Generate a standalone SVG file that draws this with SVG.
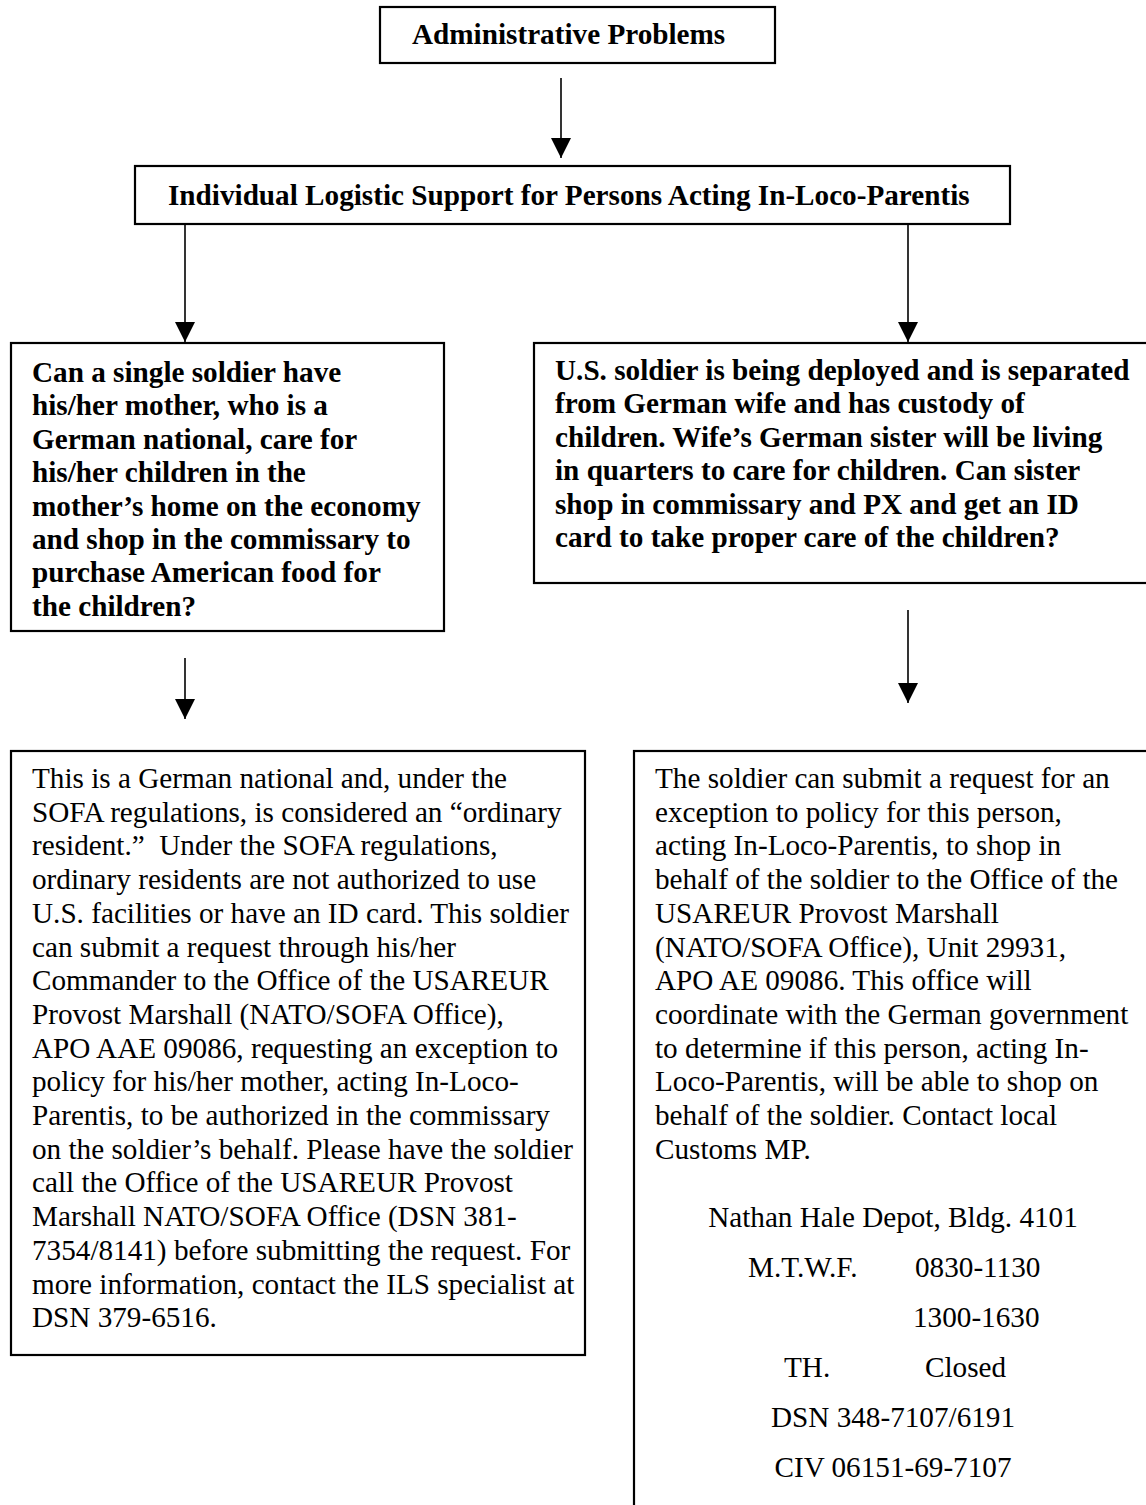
<svg xmlns="http://www.w3.org/2000/svg" width="1146" height="1505" viewBox="0 0 1146 1505">
  <defs>
    <marker id="arrowhead" markerUnits="userSpaceOnUse" markerWidth="21" markerHeight="20" refX="20" refY="10" orient="auto">
      <path d="M0,0 L20,10 L0,20 Z" fill="#000"/>
    </marker>
    <style>
      .box { fill: #fff; stroke: #000; stroke-width: 2.2; }
      .conn { stroke: #000; stroke-width: 1.6; fill: none; marker-end: url(#arrowhead); }
      text { font-family: "Liberation Serif", "Times New Roman", serif; font-size: 29.2px; fill: #000; }
      .b { font-weight: bold; }
      .c { text-anchor: middle; }
    </style>
  </defs>
  <rect width="1146" height="1505" fill="#fff"/>

  <!-- connectors -->
  <g id="connectors">
    <line class="conn" x1="561" y1="78" x2="561" y2="158"/>
    <line class="conn" x1="185" y1="224" x2="185" y2="342"/>
    <line class="conn" x1="908" y1="224" x2="908" y2="342"/>
    <line class="conn" x1="185" y1="658" x2="185" y2="719"/>
    <line class="conn" x1="908" y1="610" x2="908" y2="703"/>
  </g>

  <g id="admin-problems">
    <rect class="box" x="380" y="7" width="395" height="56"/>
    <text class="b" x="412" y="44">Administrative Problems</text>
  </g>

  <g id="ils-in-loco-parentis">
    <rect class="box" x="135" y="166" width="875" height="58"/>
    <text class="b" x="168" y="205">Individual Logistic Support for Persons Acting In-Loco-Parentis</text>
  </g>

  <g id="question-mother">
    <rect class="box" x="11" y="343" width="433" height="288"/>
    <text class="b" x="32" y="382">
      <tspan x="32" y="382">Can a single soldier have</tspan>
      <tspan x="32" y="415.4">his/her mother, who is a</tspan>
      <tspan x="32" y="448.8">German national, care for</tspan>
      <tspan x="32" y="482.2">his/her children in the</tspan>
      <tspan x="32" y="515.6">mother’s home on the economy</tspan>
      <tspan x="32" y="549">and shop in the commissary to</tspan>
      <tspan x="32" y="582.4">purchase American food for</tspan>
      <tspan x="32" y="615.8">the children?</tspan>
    </text>
  </g>

  <g id="question-sister">
    <rect class="box" x="534" y="343" width="620" height="240"/>
    <text class="b" x="555" y="380">
      <tspan x="555" y="380">U.S. soldier is being deployed and is separated</tspan>
      <tspan x="555" y="413.4">from German wife and has custody of</tspan>
      <tspan x="555" y="446.8">children. Wife’s German sister will be living</tspan>
      <tspan x="555" y="480.2">in quarters to care for children. Can sister</tspan>
      <tspan x="555" y="513.6">shop in commissary and PX and get an ID</tspan>
      <tspan x="555" y="547">card to take proper care of the children?</tspan>
    </text>
  </g>

  <g id="answer-mother">
    <rect class="box" x="11" y="751" width="574" height="604"/>
    <text x="32" y="788">
      <tspan x="32" y="788">This is a German national and, under the</tspan>
      <tspan x="32" y="821.7">SOFA regulations, is considered an “ordinary</tspan>
      <tspan x="32" y="855.4" xml:space="preserve">resident.”  Under the SOFA regulations,</tspan>
      <tspan x="32" y="889.1">ordinary residents are not authorized to use</tspan>
      <tspan x="32" y="922.8">U.S. facilities or have an ID card. This soldier</tspan>
      <tspan x="32" y="956.5">can submit a request through his/her</tspan>
      <tspan x="32" y="990.2">Commander to the Office of the USAREUR</tspan>
      <tspan x="32" y="1023.9">Provost Marshall (NATO/SOFA Office),</tspan>
      <tspan x="32" y="1057.6">APO AAE 09086, requesting an exception to</tspan>
      <tspan x="32" y="1091.3">policy for his/her mother, acting In-Loco-</tspan>
      <tspan x="32" y="1125">Parentis, to be authorized in the commissary</tspan>
      <tspan x="32" y="1158.7">on the soldier’s behalf. Please have the soldier</tspan>
      <tspan x="32" y="1192.4">call the Office of the USAREUR Provost</tspan>
      <tspan x="32" y="1226.1">Marshall NATO/SOFA Office (DSN 381-</tspan>
      <tspan x="32" y="1259.8">7354/8141) before submitting the request. For</tspan>
      <tspan x="32" y="1293.5">more information, contact the ILS specialist at</tspan>
      <tspan x="32" y="1327.2">DSN 379-6516.</tspan>
    </text>
  </g>

  <g id="answer-sister">
    <rect class="box" x="634" y="751" width="520" height="770"/>
    <text x="655" y="788">
      <tspan x="655" y="788">The soldier can submit a request for an</tspan>
      <tspan x="655" y="821.7">exception to policy for this person,</tspan>
      <tspan x="655" y="855.4">acting In-Loco-Parentis, to shop in</tspan>
      <tspan x="655" y="889.1">behalf of the soldier to the Office of the</tspan>
      <tspan x="655" y="922.8">USAREUR Provost Marshall</tspan>
      <tspan x="655" y="956.5">(NATO/SOFA Office), Unit 29931,</tspan>
      <tspan x="655" y="990.2">APO AE 09086. This office will</tspan>
      <tspan x="655" y="1023.9">coordinate with the German government</tspan>
      <tspan x="655" y="1057.6">to determine if this person, acting In-</tspan>
      <tspan x="655" y="1091.3">Loco-Parentis, will be able to shop on</tspan>
      <tspan x="655" y="1125">behalf of the soldier. Contact local</tspan>
      <tspan x="655" y="1158.7">Customs MP.</tspan>
    </text>
    <text class="c" x="893" y="1227">Nathan Hale Depot, Bldg. 4101</text>
    <text x="748" y="1277">M.T.W.F.</text>
    <text x="915" y="1277">0830-1130</text>
    <text x="913" y="1327">1300-1630</text>
    <text x="784" y="1377">TH.</text>
    <text x="925" y="1377">Closed</text>
    <text class="c" x="893" y="1427">DSN 348-7107/6191</text>
    <text class="c" x="893" y="1477">CIV 06151-69-7107</text>
  </g>
</svg>
